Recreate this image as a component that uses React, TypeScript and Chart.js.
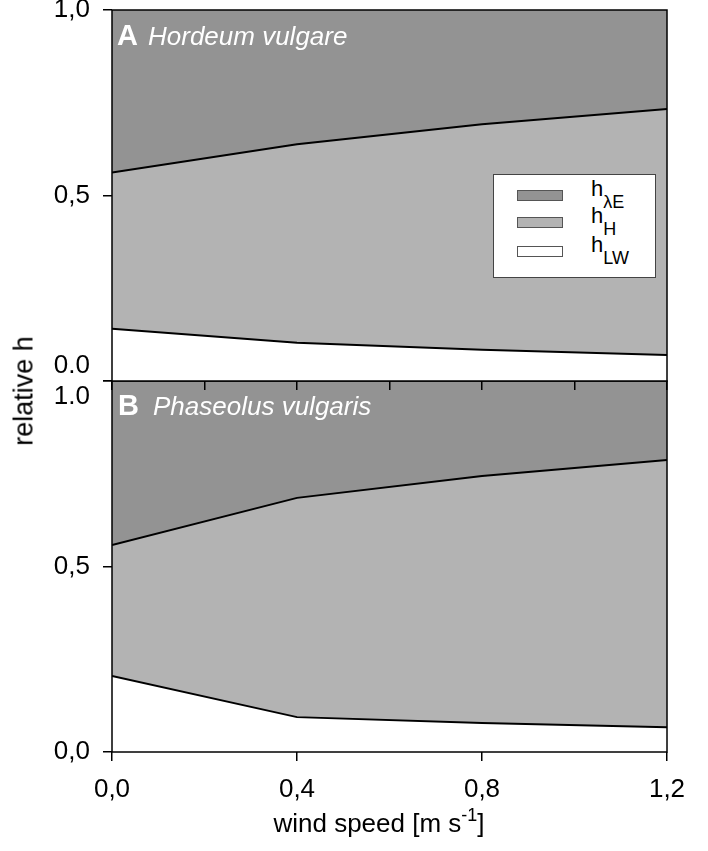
import React, { useEffect, useRef } from "react";
import { Chart, registerables } from "chart.js";

Chart.register(...registerables);

// ---------- data ----------
const windSpeed = [0, 0.4, 0.8, 1.2];
const xTickLabels = ["0,0", "0,4", "0,8", "1,2"];

// Panel A: Hordeum vulgare (relative shares)
const hLW_A = [0.141, 0.103, 0.084, 0.07];
const hH_A = [0.421, 0.535, 0.608, 0.663];
const hLE_A = [0.438, 0.362, 0.308, 0.267];

// Panel B: Phaseolus vulgaris
const hLW_B = [0.205, 0.094, 0.078, 0.067];
const hH_B = [0.353, 0.591, 0.666, 0.72];
const hLE_B = [0.442, 0.315, 0.256, 0.213];

const yTicksA = ["0.0", "0,5", "1,0"];
const yTicksB = ["0,0", "0,5", "1.0"];

const FONT = "'Liberation Sans', Arial, Helvetica, sans-serif";
const DARK = "#939393";
const MID = "#b3b3b3";

const framePlugin = {
  id: "frame",
  afterDatasetsDraw(chart: any) {
    const { ctx, chartArea } = chart;
    const { left, top, right, bottom } = chartArea;
    ctx.save();
    ctx.strokeStyle = "#000";
    ctx.lineWidth = 1.5;
    ctx.strokeRect(left, top, right - left, bottom - top);
    ctx.restore();
  },
};

function makeDatasets(lw: number[], h: number[], le: number[]) {
  const pts = (arr: number[]) => windSpeed.map((x, i) => ({ x, y: arr[i] }));
  return [
    {
      label: "hLW",
      data: pts(lw),
      fill: "origin",
      backgroundColor: "#ffffff",
      borderColor: "#000",
      borderWidth: 2,
      pointRadius: 0,
      tension: 0,
    },
    {
      label: "hH",
      data: pts(h),
      fill: "-1",
      backgroundColor: MID,
      borderColor: "#000",
      borderWidth: 2,
      pointRadius: 0,
      tension: 0,
    },
    {
      label: "hλE",
      data: pts(le),
      fill: "-1",
      backgroundColor: DARK,
      borderColor: "rgba(0,0,0,0)",
      borderWidth: 0,
      pointRadius: 0,
      tension: 0,
    },
  ];
}

function makeConfig(
  datasets: any[],
  yLabels: string[],
  isTop: boolean,
  xAxisHeight: number
) {
  const tickGrid = {
    display: true,
    drawOnChartArea: false,
    drawTicks: true,
    tickLength: 9,
    color: "#000",
    lineWidth: 1.5,
  };
  return {
    type: "line",
    data: { datasets },
    options: {
      responsive: false,
      animation: false,
      events: [],
      layout: { padding: { left: 0, right: 41, top: 10, bottom: 0 } },
      plugins: { legend: { display: false }, tooltip: { enabled: false } },
      scales: {
        x: {
          type: "linear",
          min: 0,
          max: 1.2,
          grid: tickGrid,
          border: { display: false },
          ticks: {
            stepSize: isTop ? 0.2 : 0.4,
            autoSkip: false,
            maxRotation: 0,
            padding: 13,
            color: "#000",
            font: { family: FONT, size: 26 },
            callback: (v: number) => {
              if (isTop) return "";
              const i = windSpeed.findIndex((w) => Math.abs(w - v) < 1e-6);
              return i >= 0 ? xTickLabels[i] : "";
            },
          },
          afterFit: (s: any) => {
            s.height = xAxisHeight;
            s.paddingLeft = 0;
            s.paddingRight = 0;
          },
        },
        y: {
          stacked: true,
          min: 0,
          max: 1,
          grid: tickGrid,
          border: { display: false },
          ticks: {
            stepSize: 0.5,
            autoSkip: false,
            padding: 13,
            color: "#000",
            font: { family: FONT, size: 26 },
            callback: (v: number) => {
              const i = Math.round(v * 2);
              const lab = yLabels[i];
              if (isTop && i === 0) return [lab, ""];
              if (!isTop && i === 2) return ["", lab];
              return lab;
            },
          },
          afterFit: (s: any) => {
            s.width = 112;
            s.paddingTop = 0;
            s.paddingBottom = 0;
          },
        },
      },
    },
    plugins: [framePlugin],
  };
}

function Panel({
  top,
  height,
  z,
  config,
}: {
  top: number;
  height: number;
  z: number;
  config: any;
}) {
  const ref = useRef<HTMLCanvasElement | null>(null);
  useEffect(() => {
    if (!ref.current) return;
    const chart = new Chart(ref.current, config);
    return () => chart.destroy();
  }, []);
  return (
    <canvas
      ref={ref}
      width={708}
      height={height}
      style={{
        position: "absolute",
        left: 0,
        top,
        width: 708,
        height,
        zIndex: z,
      }}
    />
  );
}

const txt: React.CSSProperties = {
  position: "absolute",
  fontFamily: FONT,
  lineHeight: 1,
  whiteSpace: "nowrap",
  zIndex: 5,
};

function LegendRow({
  top,
  color,
  main,
  sub,
}: {
  top: number;
  color: string;
  main: string;
  sub: string;
}) {
  return (
    <>
      <div
        style={{
          position: "absolute",
          left: 517,
          top,
          width: 46,
          height: 11,
          background: color,
          border: "1px solid #555",
          boxSizing: "border-box",
          zIndex: 5,
        }}
      />
      <div style={{ ...txt, left: 591, top: top - 12, fontSize: 22, color: "#000" }}>
        {main}
        <span style={{ fontSize: 18, position: "relative", top: 12 }}>{sub}</span>
      </div>
    </>
  );
}

export default function App() {
  const cfgA = makeConfig(makeDatasets(hLW_A, hH_A, hLE_A), yTicksA, true, 20);
  const cfgB = makeConfig(makeDatasets(hLW_B, hH_B, hLE_B), yTicksB, false, 99);
  return (
    <div
      style={{
        position: "absolute",
        left: 0,
        top: 0,
        width: 708,
        height: 851,
        background: "#fff",
        overflow: "hidden",
      }}
    >
      <Panel top={0} height={401} z={2} config={cfgA} />
      <Panel top={371} height={480} z={1} config={cfgB} />

      {/* panel titles */}
      <div style={{ ...txt, left: 117, top: 21, fontSize: 29, fontWeight: "bold", color: "#fff" }}>A</div>
      <div style={{ ...txt, left: 148, top: 23, fontSize: 26, fontStyle: "italic", color: "#fff" }}>
        Hordeum vulgare
      </div>
      <div style={{ ...txt, left: 118, top: 391, fontSize: 29, fontWeight: "bold", color: "#fff" }}>B</div>
      <div style={{ ...txt, left: 153, top: 393, fontSize: 26, fontStyle: "italic", color: "#fff" }}>
        Phaseolus vulgaris
      </div>

      {/* legend */}
      <div
        style={{
          position: "absolute",
          left: 493,
          top: 174,
          width: 163,
          height: 104,
          background: "#fff",
          border: "1px solid #444",
          boxSizing: "border-box",
          zIndex: 4,
        }}
      />
      <LegendRow top={190} color={DARK} main="h" sub="λE" />
      <LegendRow top={217} color={MID} main="h" sub="H" />
      <LegendRow top={246} color="#fff" main="h" sub="LW" />

      {/* axis titles */}
      <div
        style={{
          ...txt,
          left: 24,
          top: 391,
          fontSize: 27,
          color: "#000",
          transform: "translate(-50%, -50%) rotate(-90deg)",
        }}
      >
        relative h
      </div>
      <div
        style={{
          ...txt,
          left: 379,
          top: 810,
          fontSize: 26,
          color: "#000",
          transform: "translateX(-50%)",
        }}
      >
        wind speed [m s
        <span style={{ fontSize: 18, position: "relative", top: -11 }}>-1</span>]
      </div>
    </div>
  );
}
